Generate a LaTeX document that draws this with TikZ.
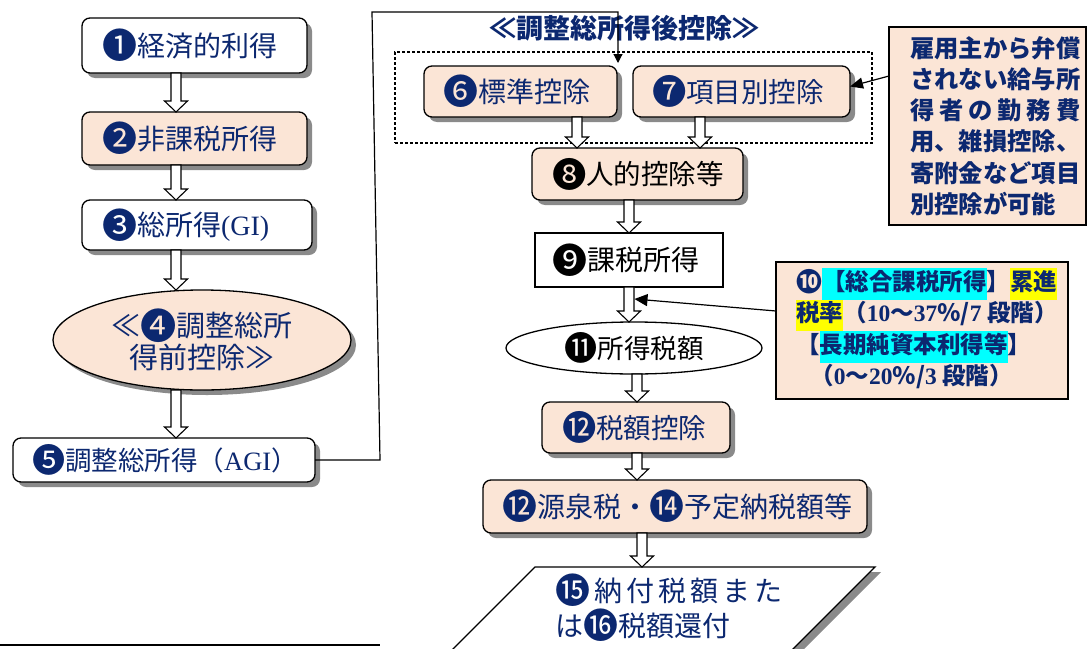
\documentclass[tikz,border=0pt]{standalone}
\usepackage{fontspec}
\setmainfont{Noto Sans CJK JP}
\newfontfamily\lser{Liberation Serif}
\usetikzlibrary{shapes.geometric,shadows,arrows.meta,calc}
\definecolor{tnavy}{HTML}{0C2870}
\definecolor{peach}{HTML}{FBE5D6}
\definecolor{shd}{HTML}{8A8A8A}
\definecolor{hlcyan}{HTML}{00FFFF}
\definecolor{hlyel}{HTML}{FFFF00}
\newcommand\fsz[2]{\fontsize{#1}{#2}\selectfont}
\newcommand\hlt[2]{{\setlength\fboxsep{0pt}\colorbox{#1}{\strut #2}}}
\newcommand\csp{\hspace{4pt}}
\newcommand\cn[1]{\raisebox{-0.09em}{\scalebox{1.25}{#1}}}
\begin{document}
\begin{tikzpicture}[x=1pt,y=-1pt,
  every node/.style={inner ysep=0pt, outer sep=0pt},
  sh/.style={drop shadow={shadow xshift=5pt, shadow yshift=-5pt, fill=shd, opacity=1}},
  rbox/.style={draw=black, line width=1.3pt, rounded corners=8pt, align=left},
  sbox/.style={draw=black, line width=1.3pt, rectangle},
  hollow/.style={draw=black, fill=white, line width=1.1pt, line join=miter,
    to path={let \p1=(\tikztostart), \p2=(\tikztotarget) in
      ({\x1-5pt},{\y1}) -- ({\x1+5pt},{\y1}) -- ({\x1+5pt},{\y2+11pt}) -- ({\x1+11.5pt},{\y2+11pt})
      -- ({\x1},{\y2}) -- ({\x1-11.5pt},{\y2+11pt}) -- ({\x1-5pt},{\y2+11pt}) -- cycle}},
  conn/.style={draw=black, line width=1.2pt}
]
\useasboundingbox (0,0) rectangle (1087,648);
\clip (0,0) rectangle (1087,648);

% helper x positions
\coordinate (xL) at (176,0);
\coordinate (xA) at (577,0);
\coordinate (xB) at (700,0);
\coordinate (xR1) at (629,0);
\coordinate (xR2) at (637,0);
\coordinate (xR3) at (642,0);

% left column
\node[rbox, sh, fill=white, text=tnavy, font=\fsz{28}{32}, minimum height=55pt, inner xsep=20pt, text width=185pt] (n1) at (194.5,45.5) {\cn{❶}経済的利得};
\node[rbox, sh, fill=peach, text=tnavy, font=\fsz{28}{32}, minimum height=53pt, inner xsep=20pt, text width=185pt] (n2) at (194.5,138.5) {\cn{❷}非課税所得};
\node[rbox, sh, fill=white, text=tnavy, font=\fsz{28}{32}, minimum height=50pt, inner xsep=20pt, text width=190pt] (n3) at (197,225) {\cn{❸}総所得{\lser(GI)}};
\node[ellipse, draw=black, line width=1.3pt, sh, fill=peach, text=tnavy, font=\fsz{29}{32}, align=center, minimum width=298pt, minimum height=100pt, inner sep=0pt] (n4) at (202,340) {≪\cn{❹}調整総所\\得前控除≫};
\node[rbox, sh, fill=white, text=tnavy, font=\fsz{26.5}{30}, minimum height=44pt, inner xsep=19pt, text width=264pt] (n5) at (164,460) {\cn{❺}調整総所得（{\lser AGI}）};

\draw[hollow] (n1.south -| xL) to (n2.north -| xL);
\draw[hollow] (n2.south -| xL) to (n3.north -| xL);
\draw[hollow] (n3.south -| xL) to (n4.north -| xL);
\draw[hollow] (n4.south -| xL) to (n5.north -| xL);

% title and group
\node[text=tnavy, font=\fsz{27}{30}\bfseries] (ttl) at (624,28) {≪調整総所得後控除≫};
\node[draw=black, line width=1.2pt, dash pattern=on 3pt off 2pt, minimum width=477pt, minimum height=91pt, inner sep=0pt] (grp) at (633.5,97.5) {};

% connector from AGI
\coordinate (c1) at (380,460);
\coordinate (c2) at (372,12);
\coordinate (c3) at (618,12);
\coordinate (grpin) at (618,63);
\draw[conn, -{Triangle[length=9pt,width=9pt]}] (n5.east) -- (c1) -- (c2) -- (c3) -- (grpin);

% right column
\node[rbox, sh, fill=peach, text=tnavy, font=\fsz{28}{32}, minimum height=51pt, inner xsep=19pt, text width=155pt] (n6) at (520.5,91.5) {\cn{❻}標準控除};
\node[rbox, sh, fill=peach, text=tnavy, font=\fsz{27.5}{32}, minimum height=51pt, inner xsep=19pt, text width=179pt] (n7) at (741.5,91.5) {\cn{❼}項目別控除};
\node[rbox, sh, fill=peach, text=black, font=\fsz{27.5}{32}, minimum height=52pt, inner xsep=20pt, text width=171pt] (n8) at (637.5,174) {\cn{❽}人的控除等};
\node[sbox, fill=white, text=black, font=\fsz{28}{32}, align=left, minimum height=54pt, inner xsep=17pt, text width=154pt] (n9) at (629,260) {\cn{❾}課税所得};
\node[ellipse, draw=black, line width=1.3pt, fill=white, text=black, font=\fsz{26.5}{30}, minimum width=256pt, minimum height=52pt, inner sep=0pt] (n11) at (634,348) {\cn{⓫}所得税額\hspace{14pt}};
\node[rbox, sh, fill=peach, text=tnavy, font=\fsz{27.5}{32}, minimum height=51pt, inner xsep=20pt, text width=148pt] (n12) at (636,427.5) {\cn{⓬}税額控除};
\node[rbox, sh, fill=peach, text=tnavy, font=\fsz{28}{32}, minimum height=53pt, inner xsep=19pt, text width=346pt] (n13) at (675,506.5) {\cn{⓬}源泉税・\cn{⓮}予定納税額等};

% parallelogram
\fill[shd] (541,572) -- (881,572) -- (796,657) -- (456,657) -- cycle;
\draw[line width=1.3pt, fill=white] (535,567) -- (875,567) -- (790,652) -- (450,652) -- cycle;
\coordinate (ptop) at (642,567);
\node[anchor=west, align=left, text=tnavy, font=\fsz{28}{35}] (n15) at (552,608) {\cn{⓯}\csp 納\csp 付\csp 税\csp 額\csp ま\csp た\\は\cn{⓰}税額還付};

\draw[hollow] (n6.south -| xA) to (n8.north -| xA);
\draw[hollow] (n7.south -| xB) to (n8.north -| xB);
\draw[hollow] (n8.south -| xR1) to (n9.north -| xR1);
\draw[hollow] (n9.south -| xR1) to (n11.north -| xR1);
\draw[hollow] (n11.south -| xR2) to (n12.north -| xR2);
\draw[hollow] (n12.south -| xR2) to (n13.north -| xR2);
\draw[hollow] (n13.south -| xR3) to (ptop);

% side box 1
\node[sbox, fill=peach, minimum width=197pt, minimum height=198pt, inner sep=0pt] (box1) at (987.5,126) {};
\node[anchor=west, align=left, text=tnavy, font=\fsz{24.3}{31.3}\bfseries] (b1t) at (907,126) {雇用主から弁償\\されない給与所\\\makebox[170pt][s]{得\hfill 者\hfill の\hfill 勤\hfill 務\hfill 費}\\用、雑損控除、\\寄附金など項目\\別控除が可能};
\draw[conn, -{Triangle[length=13pt,width=11pt]}] ([yshift=50pt]box1.west) -- ([yshift=5pt]n7.east);

% side box 10
\node[sbox, fill=peach, minimum width=292pt, minimum height=137pt, inner sep=0pt] (box10) at (922,330.5) {};
\node[anchor=west, align=left, text=tnavy, font=\fsz{23.5}{31.5}\bfseries] (b10t) at (793,328.5) {\raisebox{-0.04em}{\scalebox{1.1}{❿}}\hlt{hlcyan}{【総合課税所得}】\hlt{hlyel}{累進}\\\hlt{hlyel}{税率}（{\lser 10}～{\lser 37}％/{\lser 7} 段階）\\【\hlt{hlcyan}{長期純資本利得等}】\\\hspace*{14pt}（{\lser 0}～{\lser 20}％/{\lser 3} 段階）};
\coordinate (tip10) at (634.5,299);
\draw[conn, -{Triangle[length=13pt,width=12pt]}] ([yshift=19.5pt]box10.west) -- (tip10);

% bottom rule
\draw[line width=1.5pt] (0,645) -- (380,645);
\end{tikzpicture}
\end{document}
